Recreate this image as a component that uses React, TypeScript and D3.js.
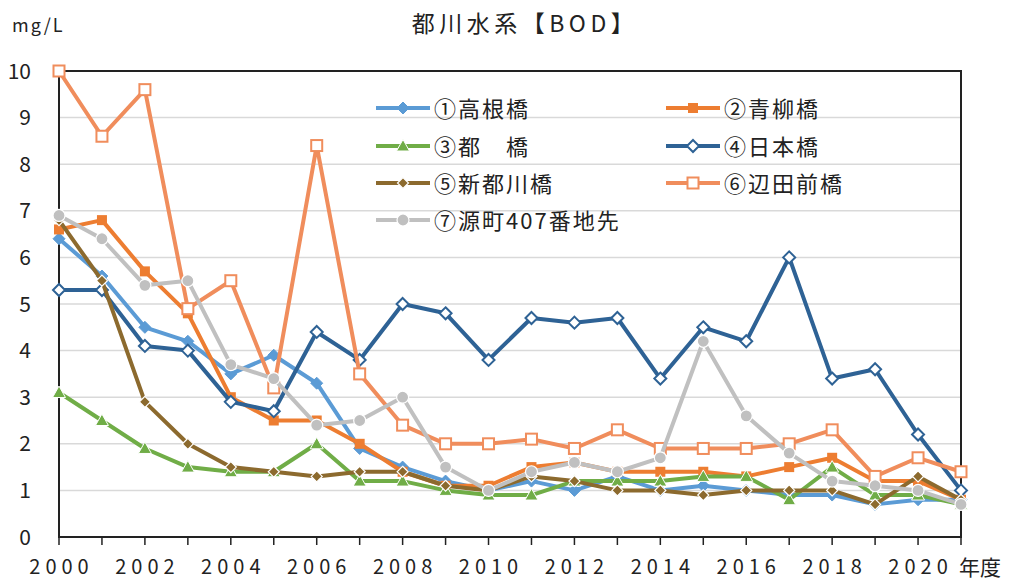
import React from "react";
import * as d3 from "d3";

const years = d3.range(2000, 2022);
const yTicks = [0, 1, 2, 3, 4, 5, 6, 7, 8, 9, 10];
const xLabelYears = [2000, 2002, 2004, 2006, 2008, 2010, 2012, 2014, 2016, 2018, 2020];

const takane = [6.4, 5.6, 4.5, 4.2, 3.5, 3.9, 3.3, 1.9, 1.5, 1.2, 1.0, 1.2, 1.0, 1.3, 1.0, 1.1, 1.0, 0.9, 0.9, 0.7, 0.8, 0.8];
const aoyagi = [6.6, 6.8, 5.7, 4.8, 3.0, 2.5, 2.5, 2.0, 1.4, 1.1, 1.1, 1.5, 1.6, 1.4, 1.4, 1.4, 1.3, 1.5, 1.7, 1.2, 1.2, 0.8];
const miyako = [3.1, 2.5, 1.9, 1.5, 1.4, 1.4, 2.0, 1.2, 1.2, 1.0, 0.9, 0.9, 1.2, 1.2, 1.2, 1.3, 1.3, 0.8, 1.5, 0.9, 0.9, 0.7];
const nihonbashi = [5.3, 5.3, 4.1, 4.0, 2.9, 2.7, 4.4, 3.8, 5.0, 4.8, 3.8, 4.7, 4.6, 4.7, 3.4, 4.5, 4.2, 6.0, 3.4, 3.6, 2.2, 1.0];
const shinTogawa = [6.8, 5.5, 2.9, 2.0, 1.5, 1.4, 1.3, 1.4, 1.4, 1.1, 1.0, 1.3, 1.2, 1.0, 1.0, 0.9, 1.0, 1.0, 1.0, 0.7, 1.3, 0.8];
const hetamae = [10.0, 8.6, 9.6, 4.9, 5.5, 3.2, 8.4, 3.5, 2.4, 2.0, 2.0, 2.1, 1.9, 2.3, 1.9, 1.9, 1.9, 2.0, 2.3, 1.3, 1.7, 1.4];
const minamoto = [6.9, 6.4, 5.4, 5.5, 3.7, 3.4, 2.4, 2.5, 3.0, 1.5, 1.0, 1.4, 1.6, 1.4, 1.7, 4.2, 2.6, 1.8, 1.2, 1.1, 1.0, 0.7];

type Marker = "diamond" | "square" | "triangle" | "odiamond" | "sdiamond" | "osquare" | "circle";

const series: { name: string; values: number[]; color: string; marker: Marker }[] = [
  { name: "①高根橋", values: takane, color: "#5B9BD5", marker: "diamond" },
  { name: "②青柳橋", values: aoyagi, color: "#ED7D31", marker: "square" },
  { name: "③都　橋", values: miyako, color: "#70AD47", marker: "triangle" },
  { name: "④日本橋", values: nihonbashi, color: "#2E6295", marker: "odiamond" },
  { name: "⑤新都川橋", values: shinTogawa, color: "#8C6A2E", marker: "sdiamond" },
  { name: "⑥辺田前橋", values: hetamae, color: "#F08D5C", marker: "osquare" },
  { name: "⑦源町407番地先", values: minamoto, color: "#C0C0C0", marker: "circle" },
];

const FONT = "'Noto Sans CJK JP', 'Noto Sans', sans-serif";

const left = 59;
const right = 961;
const top = 71;
const bottom = 537;

const x = d3.scaleLinear().domain([2000, 2021]).range([left, right]);
const y = d3.scaleLinear().domain([0, 10]).range([bottom, top]);

function drawMarker(m: Marker, cx: number, cy: number, color: string, key: string) {
  switch (m) {
    case "diamond":
      return <path key={key} d={`M${cx},${cy - 6}L${cx + 6},${cy}L${cx},${cy + 6}L${cx - 6},${cy}Z`} fill={color} stroke={color} strokeWidth={1} />;
    case "square":
      return <rect key={key} x={cx - 5} y={cy - 5} width={10} height={10} fill={color} />;
    case "triangle":
      return <path key={key} d={`M${cx},${cy - 6.5}L${cx + 6.5},${cy + 5}L${cx - 6.5},${cy + 5}Z`} fill={color} stroke="#fff" strokeWidth={1} />;
    case "odiamond":
      return <path key={key} d={`M${cx},${cy - 6}L${cx + 6},${cy}L${cx},${cy + 6}L${cx - 6},${cy}Z`} fill="#fff" stroke={color} strokeWidth={2} />;
    case "sdiamond":
      return <path key={key} d={`M${cx},${cy - 5.5}L${cx + 5.5},${cy}L${cx},${cy + 5.5}L${cx - 5.5},${cy}Z`} fill={color} stroke="#fff" strokeWidth={1.2} />;
    case "osquare":
      return <rect key={key} x={cx - 5.5} y={cy - 5.5} width={11} height={11} fill="#fff" stroke={color} strokeWidth={2} />;
    case "circle":
      return <circle key={key} cx={cx} cy={cy} r={6} fill={color} stroke="#fff" strokeWidth={1.2} />;
  }
}

const line = d3
  .line<number>()
  .x((_, i) => x(years[i]))
  .y((d) => y(d));

const legendPos = [
  { lx: 376, ly: 108 },
  { lx: 666, ly: 108 },
  { lx: 376, ly: 146 },
  { lx: 666, ly: 146 },
  { lx: 376, ly: 183 },
  { lx: 666, ly: 183 },
  { lx: 376, ly: 220 },
];

export default function App() {
  return (
    <div style={{ position: "fixed", left: 0, top: 0 }}>
      <svg width={1010} height={580} style={{ display: "block", background: "#fff" }}>
        {/* grid */}
        {yTicks.slice(1, -1).map((t) => (
          <line key={t} x1={left} x2={right} y1={y(t)} y2={y(t)} stroke="#D9D9D9" strokeWidth={1.5} />
        ))}
        {/* frame */}
        <rect x={left} y={top} width={right - left} height={bottom - top} fill="none" stroke="#222" strokeWidth={2} />
        {/* year ticks */}
        {years.map((yr) => (
          <line key={yr} x1={x(yr)} x2={x(yr)} y1={bottom} y2={bottom + 8} stroke="#222" strokeWidth={1.5} />
        ))}
        {/* y labels */}
        {yTicks.map((t) => (
          <text key={t} x={31} y={y(t) + 7.5} textAnchor="end" fontFamily={FONT} fontSize={21} fill="#222">
            {t}
          </text>
        ))}
        {/* x labels */}
        {xLabelYears.map((yr) => (
          <text key={yr} x={x(yr) + 2.5} y={574} textAnchor="middle" fontFamily={FONT} fontSize={20} letterSpacing={5} fill="#222">
            {yr}
          </text>
        ))}
        <text x={959} y={575} fontFamily={FONT} fontSize={21} fill="#222">
          年度
        </text>
        <text x={12} y={32} fontFamily={FONT} fontSize={18} letterSpacing={2} fill="#222">
          mg/L
        </text>
        <text x={525} y={32} textAnchor="middle" fontFamily={FONT} fontSize={23} letterSpacing={4.5} fill="#222">
          都川水系【BOD】
        </text>
        {/* series */}
        {series.map((s) => (
          <g key={s.name}>
            <path d={line(s.values) || ""} fill="none" stroke={s.color} strokeWidth={4} strokeLinejoin="round" />
            {s.values.map((v, i) => drawMarker(s.marker, x(years[i]), y(v), s.color, `${s.name}-${i}`))}
          </g>
        ))}
        {/* legend */}
        {series.map((s, i) => {
          const { lx, ly } = legendPos[i];
          return (
            <g key={s.name}>
              <line x1={lx} x2={lx + 54} y1={ly} y2={ly} stroke={s.color} strokeWidth={4} />
              {drawMarker(s.marker, lx + 27, ly, s.color, `lg-${i}`)}
              <text x={lx + 58} y={ly + 8.5} fontFamily={FONT} fontSize={22} letterSpacing={2} fill="#222">
                {s.name}
              </text>
            </g>
          );
        })}
      </svg>
    </div>
  );
}
